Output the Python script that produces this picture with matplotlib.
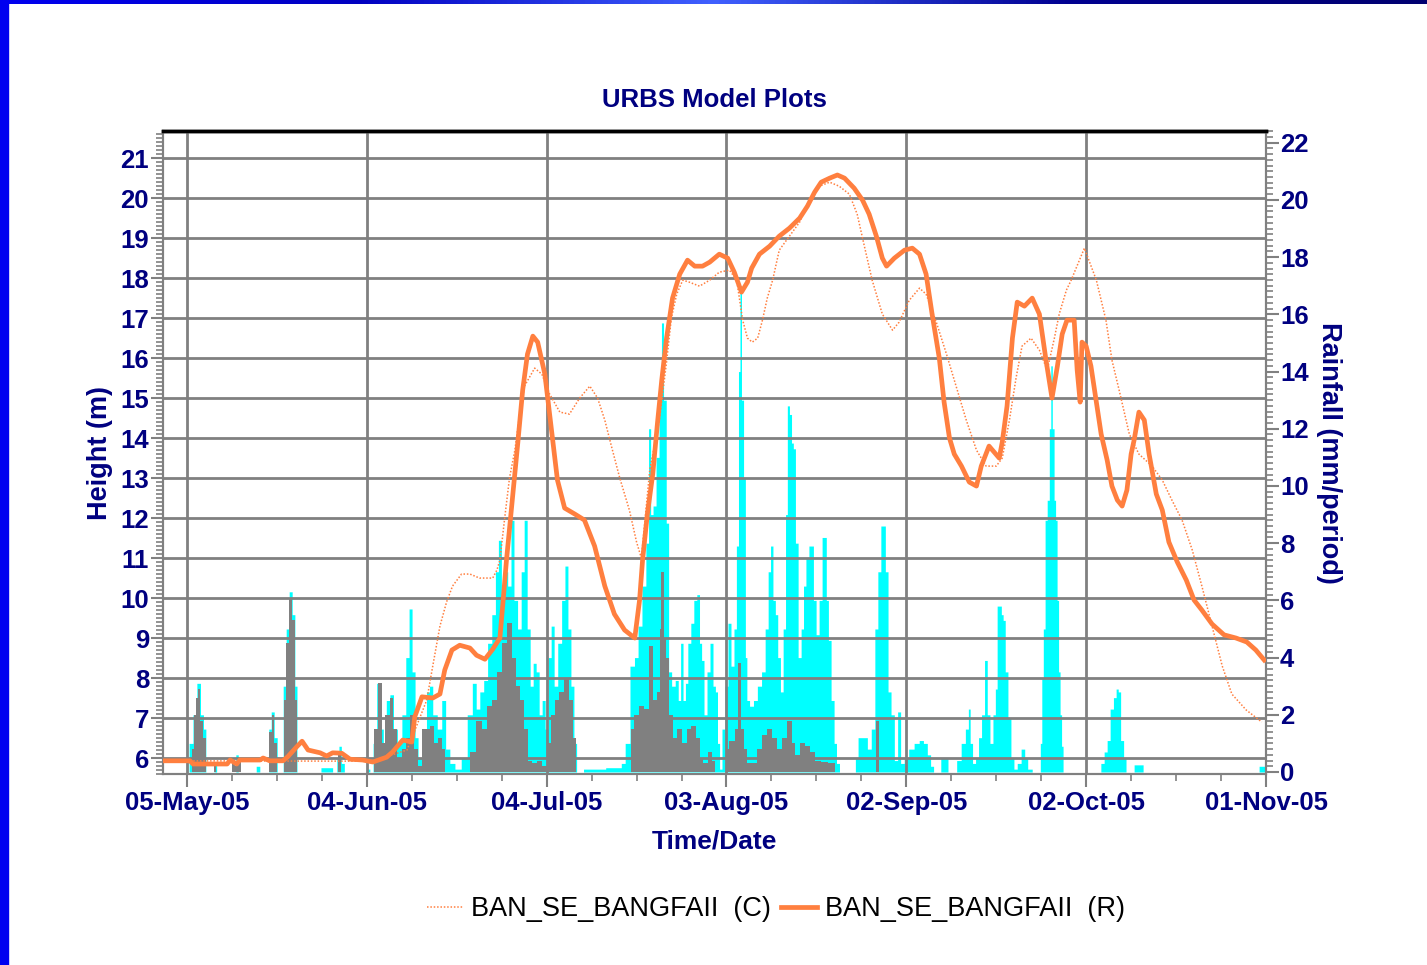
import numpy as np
import matplotlib
matplotlib.use("Agg")
import matplotlib.pyplot as plt
from matplotlib.ticker import FixedLocator, MultipleLocator
from matplotlib.lines import Line2D
from matplotlib.patches import Rectangle
from matplotlib.colors import LinearSegmentedColormap

plt.rcParams['font.family'] = ['Liberation Sans', 'DejaVu Sans']

# x values are days since 01-May-05
tick_days = [4, 34, 64, 94, 124, 154, 184]
tick_labels = ['05-May-05', '04-Jun-05', '04-Jul-05', '03-Aug-05',
               '02-Sep-05', '02-Oct-05', '01-Nov-05']

# recorded height (R), metres
rec_days = [0.0, 4.5, 5.0, 10.7, 11.2, 12.3, 12.8, 16.2, 16.7, 17.8, 20.0, 20.8, 22.3, 23.2,
            24.2, 26.2, 27.3, 28.3, 29.8, 31.2, 33.3, 35.0, 37.3, 38.3, 40.0, 41.5, 42.0,
            43.2, 45.0, 46.2, 47.0, 48.2, 49.5, 51.2, 52.3, 53.7, 55.0, 56.2, 56.7, 57.3,
            58.3, 59.2, 60.0, 60.8, 61.7, 62.5, 63.7, 64.8, 65.8, 67.0, 68.7, 70.3, 72.0,
            73.7, 75.3, 77.0, 78.7, 79.5, 80.0, 80.8, 81.7, 82.5, 83.2, 84.0, 85.0, 86.2,
            87.5, 88.7, 90.0, 91.2, 92.8, 94.2, 95.3, 96.5, 97.5, 98.2, 99.5, 101.2, 102.8,
            104.5, 106.2, 107.5, 108.7, 109.8, 111.2, 112.5, 113.7, 115.3, 116.7, 117.8,
            119.0, 120.0, 120.7, 122.0, 123.7, 125.0, 126.2, 127.3, 128.3, 129.5, 130.3,
            131.2, 132.0, 133.2, 134.5, 135.7, 136.5, 137.8, 139.5, 140.0, 140.8, 141.7,
            142.5, 143.7, 145.0, 146.2, 147.3, 148.3, 149.2, 150.0, 150.8, 152.0, 152.5,
            153.0, 153.3, 154.0, 154.8, 155.7, 156.5, 157.5, 158.3, 159.2, 160.0, 160.8,
            161.5, 162.0, 162.8, 163.7, 164.5, 165.7, 166.7, 167.8, 169.2, 170.7, 172.0,
            173.3, 175.0, 177.0, 179.0, 180.8, 182.3, 183.7]
rec_height = [5.93, 5.93, 5.85, 5.85, 5.95, 5.85, 5.95, 5.95, 6.0, 5.93, 5.93, 6.03, 6.28, 6.42,
              6.2, 6.13, 6.05, 6.13, 6.12, 5.97, 5.95, 5.9, 6.02, 6.15, 6.45, 6.4, 7.03,
              7.53, 7.5, 7.6, 8.2, 8.7, 8.82, 8.75, 8.57, 8.47, 8.72, 9.0, 9.87, 10.95,
              12.5, 13.9, 15.2, 16.1, 16.55, 16.4, 15.6, 14.2, 12.95, 12.25, 12.1, 11.95, 11.3,
              10.3, 9.6, 9.2, 9.0, 9.95, 10.95, 12.1, 13.1, 14.4, 15.45, 16.5, 17.5, 18.1,
              18.45, 18.3, 18.3, 18.4, 18.6, 18.5, 18.15, 17.65, 17.9, 18.25, 18.6, 18.8, 19.05,
              19.25, 19.5, 19.8, 20.15, 20.4, 20.5, 20.58, 20.5, 20.25, 19.95, 19.6,
              19.05, 18.5, 18.3, 18.5, 18.7, 18.75, 18.6, 18.1, 17.1, 16.0, 14.9,
              14.0, 13.6, 13.3, 12.9, 12.8, 13.3, 13.8, 13.5, 13.9, 14.8, 16.5,
              17.4, 17.3, 17.5, 17.1, 15.95, 15.0, 15.8, 16.6, 16.95, 16.95, 15.7,
              14.9, 16.4, 16.3, 15.8, 14.9, 14.1, 13.45, 12.8, 12.45, 12.3, 12.7,
              13.6, 13.95, 14.65, 14.45, 13.6, 12.6, 12.2, 11.4, 10.9, 10.45, 9.95,
              9.7, 9.35, 9.08, 9.0, 8.9, 8.7, 8.45]

# computed height (C), metres
cal_days = [0.0, 35.0, 40.7, 42.3, 44.0, 45.0, 46.2, 47.3, 48.3, 49.8, 51.2, 52.8, 55.0, 55.7,
            56.2, 57.0, 57.8, 58.7, 59.5, 60.3, 62.0, 63.2, 64.5, 66.2, 67.8, 69.5, 71.2,
            72.5, 73.7, 74.8, 76.2, 77.8, 79.0, 79.8, 81.2, 82.8, 84.0, 84.8, 85.7, 86.7,
            87.8, 89.5, 91.2, 92.8, 94.5, 95.7, 96.7, 97.5, 98.3, 99.2, 100.0, 100.8, 101.7,
            102.8, 104.5, 106.2, 107.8, 109.5, 111.2, 112.8, 114.5, 115.8, 117.0, 118.3,
            120.0, 121.7, 122.8, 124.5, 126.2, 127.3, 129.0, 130.7, 132.3, 134.0, 135.7,
            137.3, 139.0, 140.0, 141.2, 142.3, 143.3, 144.8, 146.2, 147.5, 148.7, 149.5,
            150.7, 151.5, 153.7, 155.7, 157.3, 158.3, 159.5, 161.2, 162.8, 165.0, 166.7,
            168.3, 170.0, 171.7, 173.3, 175.0, 176.7, 178.3, 180.7, 183.3]
cal_height = [5.93, 5.92, 6.2, 6.8, 7.45, 8.3, 9.3, 9.9, 10.3, 10.6, 10.6, 10.5, 10.5, 10.7,
              10.95, 12.0, 13.0, 13.7, 14.6, 15.3, 15.75, 15.6, 15.1, 14.65, 14.6, 15.0, 15.3,
              15.0, 14.45, 13.8, 13.0, 12.2, 11.4, 11.0, 13.2, 14.45, 15.9, 17.0, 17.6, 17.95,
              17.9, 17.8, 17.95, 18.15, 18.2, 17.95, 16.95, 16.5, 16.4, 16.5, 16.95, 17.5, 17.95,
              18.7, 19.05, 19.4, 19.95, 20.3, 20.4, 20.3, 20.1, 19.6, 18.8, 17.95,
              17.1, 16.7, 16.9, 17.45, 17.75, 17.6, 16.9, 16.1, 15.3, 14.45, 13.7,
              13.3, 13.3, 13.5, 14.45, 15.5, 16.3, 16.5, 16.2, 15.7, 16.5, 17.1,
              17.7, 17.95, 18.75, 17.95, 16.95, 15.95, 15.2, 14.1, 13.6, 13.3, 12.95,
              12.45, 11.95, 11.2, 10.3, 9.3, 8.3, 7.6, 7.2, 6.9]

# rainfall, station shown in cyan (mm/period)
rain_a_days = [4.0, 4.7, 5.3, 6.0, 6.5, 7.0, 7.3, 8.3, 8.7, 9.2, 12.0, 12.3, 12.8, 15.3, 15.8, 16.5,
               17.5, 17.8, 18.3, 18.8, 19.3, 19.8, 20.3, 20.8, 21.3, 21.8, 22.2, 22.5,
               26.2, 26.5, 27.8, 28.8, 29.2, 29.5, 30.0, 30.5, 33.7, 34.2, 34.8,
               35.3, 36.0, 36.5, 37.0, 37.5, 38.2, 38.7, 39.5, 40.2, 40.8, 41.3, 41.8, 42.3,
               42.8, 43.7, 44.2, 44.7, 45.3, 46.2, 46.8, 47.5, 48.2, 49.2, 50.3, 51.2, 52.0,
               52.5, 53.2, 53.8, 54.5, 55.2, 55.7, 56.2, 56.7, 57.2, 57.8, 58.3, 58.8, 59.5,
               60.0, 60.5, 61.0, 61.5, 62.0, 62.5, 63.0, 63.5, 64.0, 64.5, 65.0, 65.5, 66.2,
               66.8, 67.3, 67.8, 68.3, 68.8, 69.2, 70.0, 70.3, 73.7, 74.0, 76.2, 76.7, 77.5,
               78.3, 79.0, 79.5, 80.3, 80.8, 81.2, 81.5, 82.0, 82.5, 83.0, 83.3, 83.7, 84.2,
               84.5, 85.2, 85.7, 86.2, 86.5, 87.0, 87.3, 87.8, 88.3, 88.8, 89.3, 89.7, 90.0,
               90.5, 91.0, 91.5, 92.0, 92.3, 92.7, 93.0, 93.5, 94.0, 94.5, 95.0, 95.5, 95.8,
               96.2, 96.3, 96.7, 97.0, 97.3, 97.5, 98.2, 98.8, 99.5, 100.2, 100.7, 101.2,
               101.5, 102.0, 102.3, 102.8, 103.2, 103.7, 104.0, 104.3, 104.7, 105.0, 105.3,
               105.7, 106.2, 106.7, 107.0, 107.5, 108.0, 108.3, 108.7, 109.2, 109.7, 110.2,
               110.5, 110.8, 111.2, 111.7, 112.2, 112.5, 113.2, 115.3, 115.7, 116.2, 117.2,
               117.8, 118.5, 119.0, 119.5, 120.0, 120.3, 120.7, 121.2, 121.7, 122.3, 122.8,
               123.3, 124.0, 124.8, 125.8, 126.5, 127.2, 127.8, 128.3, 128.8, 129.5, 130.0,
               130.7, 131.2, 132.0, 132.8, 133.5, 134.2, 134.5, 134.8, 135.3, 135.8, 136.3,
               136.8, 137.3, 137.7, 138.2, 138.7, 139.0, 139.3, 139.7, 140.0, 140.3, 140.7,
               141.2, 141.7, 142.2, 142.8, 143.5, 144.0, 144.5, 145.5, 146.2, 146.5, 146.7,
               147.0, 147.3, 147.7, 148.0, 148.2, 148.5, 148.8, 149.0, 149.3, 149.5, 149.8,
               150.0, 150.3, 156.2, 156.7, 157.3, 157.7, 158.3, 158.8, 159.2, 159.5, 160.0,
               160.5, 160.8, 161.7, 162.3, 163.2, 163.8, 182.7, 183.0, 184.0]
rain_a_mm = [0, 1.0, 2.0, 3.1, 2.0, 1.5, 0, 0, 0.3, 0, 0, 0.6, 0, 0, 0.2, 0,
             0, 1.5, 2.1, 1.2, 0, 0, 3.0, 5.0, 6.3, 5.5, 3.0, 0,
             0, 0.15, 0.15, 0, 0.5, 0.9, 0.3, 0, 0, 0.1, 0,
             1.0, 3.1, 1.5, 0.8, 2.5, 2.7, 1.5, 1.0, 2.0, 4.0, 5.7, 3.5, 1.2,
             0.5, 1.5, 2.8, 3.0, 2.0, 1.5, 2.5, 0.8, 0.3, 0.1, 0.5, 2.0, 3.1,
             2.2, 2.8, 3.2, 4.5, 5.5, 7.0, 8.1, 6.0, 7.0, 6.5, 8.8, 6.0, 5.0,
             7.0, 8.8, 5.0, 3.0, 3.8, 3.5, 2.0, 2.5, 1.5, 4.0, 5.1, 3.0, 4.5,
             6.0, 7.2, 5.0, 3.0, 1.0, 0, 0, 0.1, 0.1, 0.15, 0.15, 0.3, 1.0,
             3.7, 4.0, 5.1, 6.5, 8.0, 12.0, 9.0, 9.3, 11.0, 13.0, 15.7, 13.0, 8.7,
             3.5, 3.0, 3.2, 2.5, 4.5, 2.5, 3.1, 4.5, 5.2, 6.0, 6.2, 4.5, 3.9,
             2.0, 3.5, 4.5, 3.0, 2.8, 1.0, 0.1, 1.5, 3.0, 5.2, 3.7, 5.0, 7.9,
             14.0, 17.0, 13.0, 10.3, 4.0, 2.5, 2.3, 2.5, 3.0, 3.5, 5.0, 7.0,
             7.9, 6.0, 5.5, 4.0, 2.8, 5.0, 9.0, 12.8, 12.5, 11.5, 11.3,
             8.0, 4.0, 5.0, 6.5, 7.5, 7.9, 7.9, 6.0, 4.8, 6.0, 8.2,
             8.2, 6.0, 4.6, 2.5, 1.0, 0.3, 0, 0, 0.5, 1.2, 1.2,
             0.8, 1.5, 5.0, 7.0, 8.6, 8.6, 7.0, 2.8, 2.0, 0.4, 2.1,
             0.3, 0.5, 0.8, 1.0, 1.1, 1.0, 0.6, 0.2, 0, 0, 0.5,
             0.5, 0, 0, 0.4, 1.0, 1.5, 2.2, 1.0, 0.3, 0.5, 1.2,
             2.0, 3.9, 2.0, 1.0, 2.0, 2.9, 5.8, 5.8, 5.5, 5.3, 3.5,
             1.9, 0.5, 0.1, 0.3, 0.8, 0.5, 0.1, 0, 0, 1.0, 3.3,
             5.0, 8.8, 9.5, 12.0, 14.2, 12.0, 9.5, 8.8, 6.0, 3.5, 2.0,
             0.9, 0, 0, 0.3, 0.7, 1.1, 2.2, 2.6, 2.9, 2.8, 1.1,
             0.5, 0, 0, 0.25, 0.25, 0, 0, 0.2, 0.2]

# rainfall, station shown in grey (mm/period)
rain_b_days = [4.7, 5.0, 5.3, 5.7, 6.0, 6.5, 7.0, 7.3, 8.3, 8.7, 9.0, 11.3, 11.8, 12.3, 12.8, 13.2,
               17.5, 18.0, 18.3, 18.8, 19.2, 20.0, 20.3, 20.8, 21.3, 21.7, 22.2, 22.5,
               29.0, 29.5, 29.8, 35.0, 35.5, 36.2, 36.7, 37.5, 38.2, 38.7, 39.5, 40.2, 40.8,
               41.5, 42.2, 42.8, 43.7, 44.2, 44.8, 45.5, 46.2, 46.8, 47.3,
               50.7, 51.7, 52.8, 53.7, 54.5, 55.3, 56.2, 57.0, 57.8, 58.5, 59.2, 59.8, 60.5,
               61.2, 62.0, 62.8, 63.7, 64.5, 65.0, 65.7, 66.5, 67.3, 68.0, 68.7, 69.2,
               77.8, 78.3, 79.0, 79.8, 80.8, 81.5, 82.0, 82.7, 83.0, 83.3, 83.7, 84.2, 84.7,
               85.3, 86.2, 87.0, 87.8, 88.5, 89.2, 89.8, 90.5, 91.2, 91.8, 92.5,
               93.7, 94.0, 95.0, 95.8, 96.2, 96.5, 97.2, 97.8, 98.7, 99.5, 100.3, 101.2,
               102.0, 102.8, 103.7, 104.5, 105.2, 105.8, 106.7, 107.5, 108.3, 109.2, 110.3,
               111.7, 112.5, 118.7, 119.2, 119.7]
rain_b_mm = [0, 0.8, 2.0, 2.6, 2.9, 1.8, 1.2, 0, 0, 0.2, 0, 0, 0.3, 0.2, 0.4, 0,
             0, 1.4, 2.0, 1.0, 0, 0, 2.5, 4.5, 6.1, 5.3, 2.5, 0,
             0, 0.7, 0, 0, 1.5, 3.1, 1.0, 2.0, 2.6, 1.5, 0.5, 0.8, 1.2,
             2.0, 0.8, 0.2, 1.5, 1.5, 1.6, 1.0, 1.2, 0.8, 0,
             0, 0.7, 1.8, 1.5, 2.3, 2.5, 3.5, 4.5, 5.2, 4.0, 3.0, 2.5, 1.5,
             0.4, 0.3, 0.4, 0.2, 1.0, 2.0, 2.5, 2.8, 3.3, 2.5, 1.2, 0,
             0, 1.5, 2.0, 2.3, 2.2, 4.4, 2.5, 2.8, 5.0, 7.0, 4.7, 4.0, 2.0,
             1.2, 1.5, 1.0, 1.5, 1.6, 1.2, 0.5, 0.3, 0.7, 0.4, 0,
             0, 0.8, 1.1, 1.5, 3.8, 1.5, 0.8, 0.3, 0.3, 0.8, 1.3, 1.5,
             1.2, 0.8, 1.2, 1.8, 1.0, 0.6, 1.0, 0.9, 0.7, 0.4, 0.35,
             0.3, 0, 0, 1.8, 0]

navy = '#000080'
grey = '#808080'
orange = '#FF7F3F'

fig = plt.figure(figsize=(14.27, 9.65), dpi=100)
ax = fig.add_axes([163 / 1427, 1 - 774 / 965, (1266 - 163) / 1427, (774 - 131) / 965])
ax2 = ax.twinx()

# rainfall on the right axis, drawn underneath
ax2.fill_between(rain_a_days, rain_a_mm, 0, color='#00FFFF', lw=0, step='mid', zorder=1)
ax2.fill_between(rain_b_days, rain_b_mm, 0, color=grey, lw=0, step='mid', zorder=2)
ax2.set_ylim(-0.07, 22.41)
ax2.yaxis.set_major_locator(FixedLocator(range(0, 23, 2)))
ax2.yaxis.set_minor_locator(MultipleLocator(0.2))

# heights on the left axis, on top
ax.set_zorder(ax2.get_zorder() + 1)
ax.patch.set_visible(False)
ax.plot(cal_days, cal_height, color=orange, lw=1.1, ls=(0, (1, 1.2)), zorder=3)
ax.plot(rec_days, rec_height, color=orange, lw=3.4, zorder=4, solid_joinstyle='round')
ax.set_ylim(5.6, 21.68)
ax.set_xlim(0, 184)
ax.yaxis.set_major_locator(FixedLocator(range(6, 22)))
ax.yaxis.set_minor_locator(MultipleLocator(0.1))
ax.xaxis.set_major_locator(FixedLocator(tick_days))
ax.xaxis.set_minor_locator(MultipleLocator(7.5, offset=4))
ax.set_xticklabels(tick_labels)
ax.grid(True, which='major', color=grey, lw=2.0)

for a in (ax, ax2):
    for s in a.spines.values():
        s.set_color(grey)
        s.set_linewidth(1.5)
    a.spines['top'].set_color('black')
    a.spines['top'].set_linewidth(2.5)

ax.tick_params(axis='both', which='major', length=9, width=1.5, color=grey,
               labelcolor=navy, labelsize=18.5)
ax.tick_params(axis='both', which='minor', length=5, width=1.2, color=grey)
ax.tick_params(axis='y', pad=1)
ax.tick_params(axis='x', pad=3)
ax2.tick_params(axis='y', which='major', length=9, width=1.5, color=grey,
                labelcolor=navy, labelsize=18.5, pad=1)
ax2.tick_params(axis='y', which='minor', length=5, width=1.2, color=grey)
for lab in ax.get_xticklabels() + ax.get_yticklabels() + ax2.get_yticklabels():
    lab.set_fontweight('bold')

ax.set_title('URBS Model Plots', color=navy, fontsize=18.5, fontweight='bold', pad=17)
ax.set_xlabel('Time/Date', color=navy, fontsize=19, fontweight='bold', labelpad=11)
ax.set_ylabel('Height (m)', color=navy, fontsize=19.5, fontweight='bold', labelpad=5)
ax2.set_ylabel('Rainfall (mm/period)', color=navy, fontsize=19.5, fontweight='bold',
               rotation=270, va='bottom', labelpad=5)

handles = [Line2D([], [], color=orange, lw=1.1, ls=(0, (1, 1.2))),
           Line2D([], [], color=orange, lw=3.4)]
fig.legend(handles, ['BAN_SE_BANGFAII  (C)', 'BAN_SE_BANGFAII  (R)'],
           loc='center', bbox_to_anchor=(776 / 1427, 1 - 909 / 965), ncol=2,
           frameon=False, fontsize=19.5, handlelength=1.35, handletextpad=0.3,
           columnspacing=0.35)

# slide frame: blue strip on the left and a gradient strip on top
fig.patches.append(Rectangle((0, 0), 8 / 1427, 1, transform=fig.transFigure,
                             color='#0000F0', zorder=10))
top = fig.add_axes([0, 1 - 4 / 965, 1, 4 / 965])
grad = np.linspace(0, 1, 256)[None, :]
cm = LinearSegmentedColormap.from_list('frame', ['#0000F0', '#0000C0', '#4060FF', '#000090', '#000070'])
top.imshow(grad, aspect='auto', cmap=cm)
top.axis('off')

fig.savefig('out.png', dpi=100, facecolor='white')
